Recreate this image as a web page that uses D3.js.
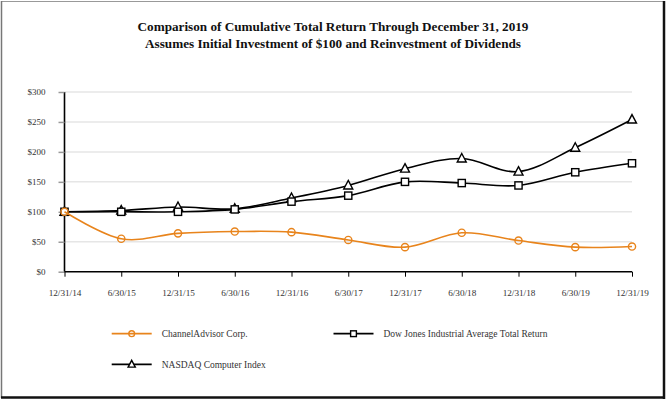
<!DOCTYPE html>
<html><head><meta charset="utf-8">
<script src="https://cdn.jsdelivr.net/npm/d3@7"></script>
<style>body{margin:0;background:#fff}svg{display:block}</style>
</head><body>
<svg id="c" width="666" height="400"></svg>
<script>
const categories = ["12/31/14","6/30/15","12/31/15","6/30/16","12/31/16","6/30/17","12/31/17","6/30/18","12/31/18","6/30/19","12/31/19"];
const channelAdvisor = [100, 55, 64, 67, 66, 53, 41, 65, 52, 41, 42];
const dowJones = [100, 100, 100, 104, 117, 127, 150, 148, 144, 166, 181];
const nasdaqComputer = [100, 102, 108, 105, 123, 144, 172, 189, 167, 207, 254];
const yTicks = [0, 50, 100, 150, 200, 250, 300];
const seriesNames = ["ChannelAdvisor Corp.", "Dow Jones Industrial Average Total Return", "NASDAQ Computer Index"];

const svg = d3.select("#c");
const font = "'Liberation Serif','Times New Roman',serif";
const W = 666, H = 400;

// frame
svg.append("line").attr("x1",1).attr("x2",W-2).attr("y1",1.5).attr("y2",1.5).attr("stroke","#999").attr("stroke-width",1);
svg.append("line").attr("x1",1.5).attr("x2",1.5).attr("y1",1).attr("y2",H-2).attr("stroke","#777").attr("stroke-width",1.5);
svg.append("line").attr("x1",W-2).attr("x2",W-2).attr("y1",1).attr("y2",H-1).attr("stroke","#111").attr("stroke-width",2.5);
svg.append("line").attr("x1",1).attr("x2",W-1).attr("y1",H-2.5).attr("y2",H-2.5).attr("stroke","#111").attr("stroke-width",2.5);

// title
svg.append("text").attr("x",333).attr("y",31).attr("text-anchor","middle")
  .attr("font-family",font).attr("font-weight","bold").attr("font-size",13.2).attr("fill","#111")
  .text("Comparison of Cumulative Total Return Through December 31, 2019");
svg.append("text").attr("x",333).attr("y",48).attr("text-anchor","middle")
  .attr("font-family",font).attr("font-weight","bold").attr("font-size",13.2).attr("fill","#111")
  .text("Assumes Initial Investment of $100 and Reinvestment of Dividends");

const x = d3.scalePoint().domain(categories).range([64.5, 632]);
const y = d3.scaleLinear().domain([0, 300]).range([271.7, 92]);

// gridlines
svg.append("g").selectAll("line").data(yTicks.filter(d=>d>0)).join("line")
  .attr("x1",64.5).attr("x2",632).attr("y1",d=>y(d)).attr("y2",d=>y(d))
  .attr("stroke","#e6e6e6").attr("stroke-width",1.5);

// y axis
const yAxis = svg.append("g").attr("transform","translate(64.5,0)")
  .call(d3.axisLeft(y).tickValues(yTicks).tickFormat(d=>"$"+d).tickSize(6).tickPadding(13));
yAxis.select(".domain").attr("stroke","#000").attr("stroke-width",1.6).attr("d","M0,"+y(0)+"V"+y(300));
yAxis.selectAll(".tick line").attr("stroke","#999").attr("stroke-width",1.5);
yAxis.selectAll(".tick text").attr("font-family",font).attr("font-size",9).attr("fill","#333");

// x axis
const xAxis = svg.append("g").attr("transform","translate(0,"+y(0)+")")
  .call(d3.axisBottom(x).tickSize(5).tickPadding(13));
xAxis.select(".domain").attr("stroke","#000").attr("stroke-width",1.6).attr("d","M64.5,0H632");
xAxis.selectAll(".tick line").attr("stroke","#000").attr("stroke-width",1);
xAxis.selectAll(".tick text").attr("font-family",font).attr("font-size",9.2).attr("fill","#333");

const line = d3.line().x((d,i)=>x(categories[i])).y(d=>y(d)).curve(d3.curveCardinal.tension(0));

const orange = "#e8841c";
const series = [
  {name: seriesNames[0], values: channelAdvisor, color: orange, marker: "circle"},
  {name: seriesNames[1], values: dowJones, color: "#000", marker: "square"},
  {name: seriesNames[2], values: nasdaqComputer, color: "#000", marker: "triangle"}
];

function drawMarker(g, type, cx, cy, color, s){
  s = s || 1;
  if(type==="circle"){
    g.append("circle").attr("cx",cx).attr("cy",cy).attr("r",3.6*s).attr("fill","none").attr("stroke",color).attr("stroke-width",1.4);
  } else if(type==="square"){
    g.append("rect").attr("x",cx-3.6*s).attr("y",cy-3.6*s).attr("width",7.2*s).attr("height",7.2*s).attr("fill","#fff").attr("stroke",color).attr("stroke-width",1.4);
  } else {
    g.append("path").attr("d",`M${cx},${cy-5*s}L${cx+4.5*s},${cy+3.5*s}L${cx-4.5*s},${cy+3.5*s}Z`).attr("fill","#fff").attr("stroke",color).attr("stroke-width",1.4);
  }
}

[series[2], series[1], series[0]].forEach(s=>{
  const g = svg.append("g");
  g.append("path").attr("d", line(s.values)).attr("fill","none").attr("stroke",s.color).attr("stroke-width",1.6);
  s.values.forEach((v,i)=>drawMarker(g, s.marker, x(categories[i]), y(v), s.color));
});

// legend
const legendPos = [[111.7,333.7],[333.5,333.7],[111.7,364.3]];
series.forEach((s,i)=>{
  const [lx,ly] = legendPos[i];
  const g = svg.append("g");
  g.append("line").attr("x1",lx).attr("x2",lx+40).attr("y1",ly).attr("y2",ly).attr("stroke",s.color).attr("stroke-width",1.8);
  drawMarker(g, s.marker, lx+20, ly, s.color, 0.8);
  g.append("text").attr("x",lx+50).attr("y",ly+3.2).attr("font-family",font).attr("font-size",9.5).attr("fill","#333").text(s.name);
});
</script>
</body></html>
